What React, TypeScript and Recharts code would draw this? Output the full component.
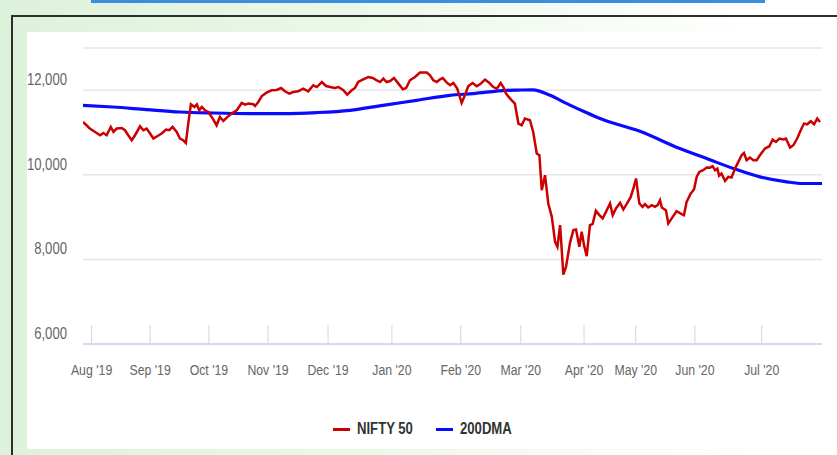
import React from 'react';
import { LineChart, Line, XAxis, YAxis, CartesianGrid } from 'recharts';

const FONT = "'Liberation Sans', Arial, sans-serif";
const NARROW = 0.82;

const seriesNames = ['NIFTY 50', '200DMA'];
const seriesColors = ['#cc0000', '#0a0aff'];

// x axis = trading-day position; month starts at these positions
const monthTicks = [2.9, 22.7, 42.6, 62.6, 82.9, 104.5, 127.8, 148.1, 169.5, 187.0, 207.0, 229.6];
const monthLabels = ["Aug '19", "Sep '19", "Oct '19", "Nov '19", "Dec '19", "Jan '20", "Feb '20", "Mar '20", "Apr '20", "May '20", "Jun '20", "Jul '20"];
const yTicks = [6000, 8000, 10000, 12000];

const niftyDays = [
  0, 1.2, 2.3, 4.1, 5.8, 6.9, 8.0, 9.4, 10.3, 11.4, 13.1, 14.2, 15.3, 16.5, 17.6, 19.3, 20.4, 21.5, 22.7, 23.8,
  25.1, 26.6, 28.1, 29.2, 30.3, 31.7, 32.8, 33.9, 34.8, 35.6, 36.5, 37.7, 38.5, 39.3, 40.2, 41.3, 42.4, 43.9, 45.2, 46.3,
  47.5, 48.6, 50.3, 52.0, 53.7, 54.8, 55.9, 57.6, 58.2, 59.3, 60.5, 62.1, 63.8, 65.5, 67.0, 68.3, 69.8, 71.1, 72.8, 74.5,
  76.2, 77.9, 79.1, 80.8, 82.2, 83.6, 85.2, 86.4, 88.1, 89.4, 90.9, 92.0, 93.1, 94.8, 96.5, 98.0, 99.4, 100.5, 101.6, 102.7,
  103.9, 105.2, 106.7, 108.2, 109.3, 110.6, 112.3, 114.0, 116.3, 117.4, 118.5, 119.7, 120.8, 121.7, 123.0, 124.2, 125.3, 126.6, 128.1, 129.2,
  130.3, 131.8, 133.2, 134.3, 136.0, 137.5, 138.8, 140.0, 141.3, 142.2, 143.1, 144.5, 146.1, 147.3, 148.4, 149.5, 151.2, 152.3, 153.5, 154.4,
  155.2, 156.3, 157.4, 158.6, 159.7, 160.5, 161.4, 162.5, 163.4, 164.8, 165.9, 166.8, 167.9, 168.7, 169.5, 170.4, 171.5, 172.4, 173.5, 174.7,
  175.8, 177.2, 178.3, 179.2, 180.3, 181.7, 182.8, 183.9, 185.3, 186.2, 187.1, 188.2, 189.3, 190.1, 191.2, 192.4, 193.5, 194.4, 195.2, 195.8,
  197.2, 198.0, 199.5, 200.8, 202.5, 203.3, 204.2, 205.6, 206.7, 207.6, 208.5, 209.8, 211.0, 212.1, 213.0, 213.8, 214.6, 215.2, 216.0, 217.2,
  218.3, 219.4, 220.6, 221.7, 222.8, 223.6, 224.5, 225.6, 226.8, 227.9, 229.0, 230.7, 232.2, 233.3, 234.4, 235.6, 236.9, 237.8, 239.2, 240.3,
  241.6, 242.8, 243.9, 245.0, 246.2, 247.3, 248.4, 249.3,
];
const niftyValues = [
  11251, 11173, 11095, 11015, 10937, 10991, 10937, 11133, 11015, 11095, 11109, 11055, 10937, 10818, 10937, 11149, 11055, 11095, 10977, 10859,
  10913, 10977, 11071, 11055, 11133, 11015, 10859, 10818, 10755, 11213, 11669, 11605, 11669, 11527, 11605, 11527, 11487, 11331, 11173, 11369,
  11274, 11355, 11449, 11527, 11700, 11662, 11685, 11669, 11629, 11723, 11865, 11945, 11999, 12007, 12054, 11976, 11922, 11959, 11976, 12040,
  11976, 12118, 12077, 12196, 12101, 12077, 12054, 12077, 11999, 11898, 11999, 12054, 12196, 12259, 12314, 12290, 12236, 12196, 12276, 12196,
  12219, 12290, 12158, 12023, 12054, 12236, 12314, 12418, 12418, 12354, 12236, 12196, 12259, 12290, 12188, 12118, 12172, 12040, 11700, 11881,
  12094, 12172, 12094, 12141, 12252, 12172, 12077, 12040, 12172, 12077, 11922, 11803, 11685, 11213, 11173, 11331, 11291, 11015, 10504, 10464,
  9637, 9992, 9323, 9007, 8416, 8298, 8811, 7640, 7826, 8409, 8693, 8709, 8298, 8653, 8338, 8079, 8811, 8834, 9149, 9047,
  8969, 9165, 9323, 9047, 9205, 9338, 9182, 9307, 9479, 9678, 9914, 9323, 9243, 9307, 9229, 9283, 9243, 9283, 9401, 9229,
  9165, 8851, 9007, 9141, 9071, 9047, 9361, 9560, 9654, 9952, 10070, 10110, 10174, 10169, 10204, 10110, 10150, 9980, 10032, 9857,
  9952, 9937, 10150, 10306, 10464, 10519, 10346, 10410, 10346, 10346, 10464, 10622, 10677, 10835, 10778, 10859, 10835, 10859, 10646, 10700,
  10859, 11055, 11213, 11196, 11267, 11196, 11331, 11251,
];

const dmaDays = [0, 10.1, 21.5, 32.8, 44.0, 56.5, 67.7, 79.1, 90.3, 101.5, 112.9, 124.2, 132.0, 143.3, 147.0, 152.2, 158.0, 163.7, 169.1, 174.9, 188.4, 201.9, 211.0, 220.0, 229.0, 238.1, 243.6, 250.0];
const dmaValues = [11645, 11605, 11544, 11487, 11463, 11449, 11449, 11473, 11527, 11645, 11763, 11881, 11922, 11999, 12005, 12011, 11881, 11685, 11511, 11331, 11031, 10622, 10386, 10150, 9952, 9834, 9796, 9796];

const niftyData = niftyDays.map((d, i) => ({ day: d, value: niftyValues[i] }));
const dmaData = dmaDays.map((d, i) => ({ day: d, value: dmaValues[i] }));

const X_TICK_MARGIN = 18;
const Y_TICK_MARGIN = 16;

const XTick = (props: any) => {
  const { x, y, payload } = props;
  const idx = monthTicks.indexOf(payload.value);
  const axisY = y - X_TICK_MARGIN;
  return (
    <g>
      <line x1={x} x2={x} y1={axisY} y2={axisY - 19} stroke="#ccd6eb" strokeWidth={1} />
      <text x={0} y={0} dy="0.71em" transform={`translate(${x} ${y + 2}) scale(${NARROW} 1)`}
        textAnchor="middle" fill="#666666" fontSize={15} fontFamily={FONT}>
        {monthLabels[idx]}
      </text>
    </g>
  );
};

const YTick = (props: any) => {
  const { x, y, payload } = props;
  return (
    <text x={0} y={0} dy="0.355em" transform={`translate(${x} ${y - 11}) scale(${NARROW} 1)`}
      textAnchor="end" fill="#666666" fontSize={16} fontFamily={FONT}>
      {Number(payload.value).toLocaleString('en-US')}
    </text>
  );
};

export default function App() {
  return (
    <div style={{ position: 'absolute', left: 0, top: 0, width: 837, height: 455, overflow: 'hidden',
      background: 'linear-gradient(to right, #ddf2da 0%, #ecf8ea 45%, #ffffff 90%)' }}>
      <div style={{ position: 'absolute', left: 91, top: 0, width: 674, height: 3, background: '#3b8de0' }} />
      <div style={{ position: 'absolute', left: 11, top: 15, width: 826, height: 440, boxSizing: 'border-box',
        borderTop: '2px solid #2e2e2e', borderLeft: '2px solid #2e2e2e' }} />
      <div style={{ position: 'absolute', left: 27, top: 32, width: 810, height: 417, background: '#ffffff' }} />
      <div style={{ position: 'absolute', left: 0, top: 0 }}>
        <LineChart width={837} height={455} margin={{ top: 48, right: 15, left: 23, bottom: 71 }}>
          <CartesianGrid horizontal vertical={false} stroke="#e6e6e6" strokeWidth={1.5} />
          <XAxis
            dataKey="day"
            type="number"
            domain={[0, 250]}
            allowDataOverflow
            ticks={monthTicks}
            interval={0}
            height={40}
            tickSize={0}
            tickMargin={X_TICK_MARGIN}
            tickLine={false}
            axisLine={{ stroke: '#ccd6eb', strokeWidth: 1.5 }}
            tick={<XTick />}
          />
          <YAxis
            type="number"
            domain={[6000, 13000]}
            ticks={yTicks}
            interval={0}
            width={60}
            tickSize={0}
            tickMargin={Y_TICK_MARGIN}
            tickLine={false}
            axisLine={false}
            tick={<YTick />}
          />
          <Line data={dmaData} dataKey="value" name={seriesNames[1]} type="monotone" stroke={seriesColors[1]}
            strokeWidth={3.2} dot={false} activeDot={false} isAnimationActive={false} />
          <Line data={niftyData} dataKey="value" name={seriesNames[0]} type="linear" stroke={seriesColors[0]}
            strokeWidth={2.5} dot={false} activeDot={false} isAnimationActive={false} />
        </LineChart>
      </div>
      <div style={{ position: 'absolute', left: 333, top: 419, display: 'flex', alignItems: 'center',
        fontFamily: FONT, fontSize: 16, fontWeight: 'bold', color: '#333333', whiteSpace: 'nowrap', lineHeight: '20px' }}>
        {seriesNames.map((name, i) => (
          <div key={name} style={{ display: 'flex', alignItems: 'center', marginRight: i === 0 ? 23 : 0 }}>
            <div style={{ width: 17, height: 3, background: seriesColors[i], marginRight: 7 }} />
            <span style={{ display: 'inline-block', width: i === 0 ? 56 : 53, overflow: 'visible' }}>
              <span style={{ display: 'inline-block', transform: `scaleX(${NARROW})`, transformOrigin: 'left center' }}>{name}</span>
            </span>
          </div>
        ))}
      </div>
    </div>
  );
}
